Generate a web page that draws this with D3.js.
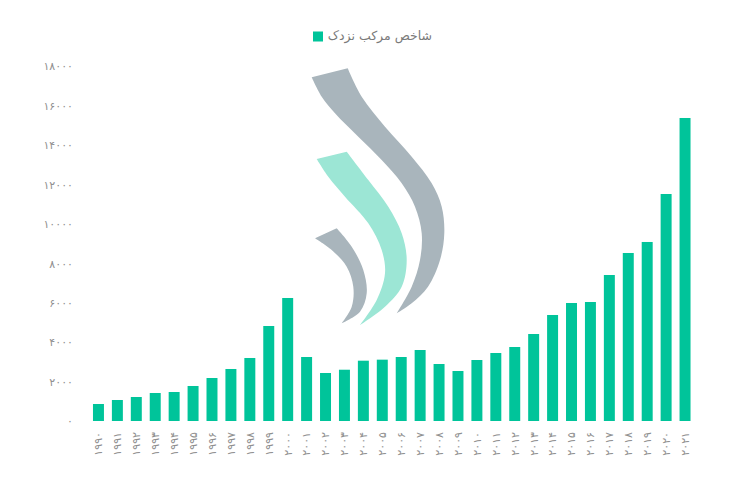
<!DOCTYPE html>
<html>
<head>
<meta charset="utf-8">
<script src="https://cdn.jsdelivr.net/npm/d3@7"></script>
<style>
  html, body { margin: 0; padding: 0; background: #ffffff; }
  svg { display: block; }
  text { font-family: "DejaVu Sans", "Noto Sans", sans-serif; }
</style>
</head>
<body>
<svg id="chart" width="739" height="480"></svg>
<script>
const years = [1990,1991,1992,1993,1994,1995,1996,1997,1998,1999,2000,2001,2002,2003,2004,2005,2006,2007,2008,2009,2010,2011,2012,2013,2014,2015,2016,2017,2018,2019,2020,2021];
const values = [862,1065,1217,1420,1470,1775,2180,2637,3195,4817,6237,3245,2434,2600,3058,3110,3245,3600,2890,2535,3093,3448,3752,4411,5375,5983,6034,7403,8519,9077,11510,15364];
const yTicks = [0,2000,4000,6000,8000,10000,12000,14000,16000,18000];
const seriesName = "شاخص مرکب نزدک";

const faDigits = "۰۱۲۳۴۵۶۷۸۹";
const toFa = s => String(s).replace(/\d/g, c => faDigits[+c]);

const svg = d3.select("#chart");
const W = 739, H = 480;
const margin = { top: 66, bottom: 59, left: 89, right: 44.5 };

const x = d3.scaleBand()
  .domain(years)
  .range([margin.left, W - margin.right])
  .paddingInner(0.42)
  .paddingOuter(0.21);

const y = d3.scaleLinear()
  .domain([0, 18000])
  .range([H - margin.bottom, margin.top]);

// Watermark logo (decoration)
const curve = d3.line().curve(d3.curveCatmullRom.alpha(0.5));
function shape(outer, inner) {
  const a = curve(outer);
  const b = curve(inner).replace(/^M/, "L");
  return a + b + "Z";
}
const logo = svg.append("g").attr("class", "logo");
logo.append("path")
  .attr("fill", "#a9b5bc")
  .attr("d", shape(
    [[347.7,68.3],[361.7,96.7],[385,126.7],[411.7,156.7],[431.7,183.3],[441.7,206.7],[444.3,233.3],[440,260],[428,286.7],[411.7,303.3],[396.7,313.3]],
    [[396.7,313.3],[411.7,286.7],[420,260],[421.7,233.3],[415,206.7],[401.7,183.3],[381.7,160],[358.3,136.7],[335,113.3],[321.7,96.7],[311.7,77.3]]
  ));
logo.append("path")
  .attr("fill", "#9ce6d5")
  .attr("d", shape(
    [[346.7,151.7],[368.3,180],[388.3,206.7],[401.7,233.3],[406.7,260],[401.7,286.7],[385,306.7],[360,325]],
    [[360,325],[376.7,300],[385,273.3],[381.7,250],[368.3,223.3],[345,196.7],[328.3,176.7],[316.7,159]]
  ));
logo.append("path")
  .attr("fill", "#a9b5bc")
  .attr("d", shape(
    [[336.7,228.3],[351.7,246.7],[363.3,270],[366.7,293.3],[360,311.7],[341.7,323.3]],
    [[341.7,323.3],[351.7,306.7],[353.3,286.7],[346.7,266.7],[331.7,250],[315,238.3]]
  ));

// Bars
svg.append("g")
  .selectAll("rect")
  .data(years)
  .join("rect")
  .attr("x", d => x(d))
  .attr("width", x.bandwidth())
  .attr("y", (d, i) => y(values[i]))
  .attr("height", (d, i) => y(0) - y(values[i]))
  .attr("fill", "#00c49a");

// Y axis
const yAxis = svg.append("g")
  .attr("transform", `translate(${margin.left - 16},0)`)
  .call(d3.axisLeft(y).tickValues(yTicks).tickSize(0).tickPadding(0).tickFormat(toFa));
yAxis.select(".domain").remove();
yAxis.selectAll("text")
  .attr("fill", "#8f8f8f")
  .style("font-size", "11px")
  .style("letter-spacing", "3px")
  .attr("dy", "0.35em");

// X axis
const xAxis = svg.append("g")
  .attr("transform", `translate(0,${H - margin.bottom + 11})`)
  .call(d3.axisBottom(x).tickSize(0).tickPadding(0).tickFormat(toFa));
xAxis.select(".domain").remove();
xAxis.selectAll("text")
  .attr("fill", "#8f8f8f")
  .style("font-size", "11px")
  .style("letter-spacing", "1.8px")
  .attr("text-anchor", "end")
  .attr("transform", "rotate(-90)")
  .attr("x", 0)
  .attr("y", 0)
  .attr("dy", "0.35em");

// Legend
const legend = svg.append("g");
legend.append("rect")
  .attr("x", 313).attr("y", 31.5)
  .attr("width", 10).attr("height", 10)
  .attr("fill", "#00c49a");
legend.append("text")
  .attr("x", 432).attr("y", 36)
  .attr("dy", "0.35em")
  .attr("text-anchor", "end")
  .attr("fill", "#7a7a7a")
  .style("font-size", "12.5px")
  .text(seriesName);
</script>
</body>
</html>
